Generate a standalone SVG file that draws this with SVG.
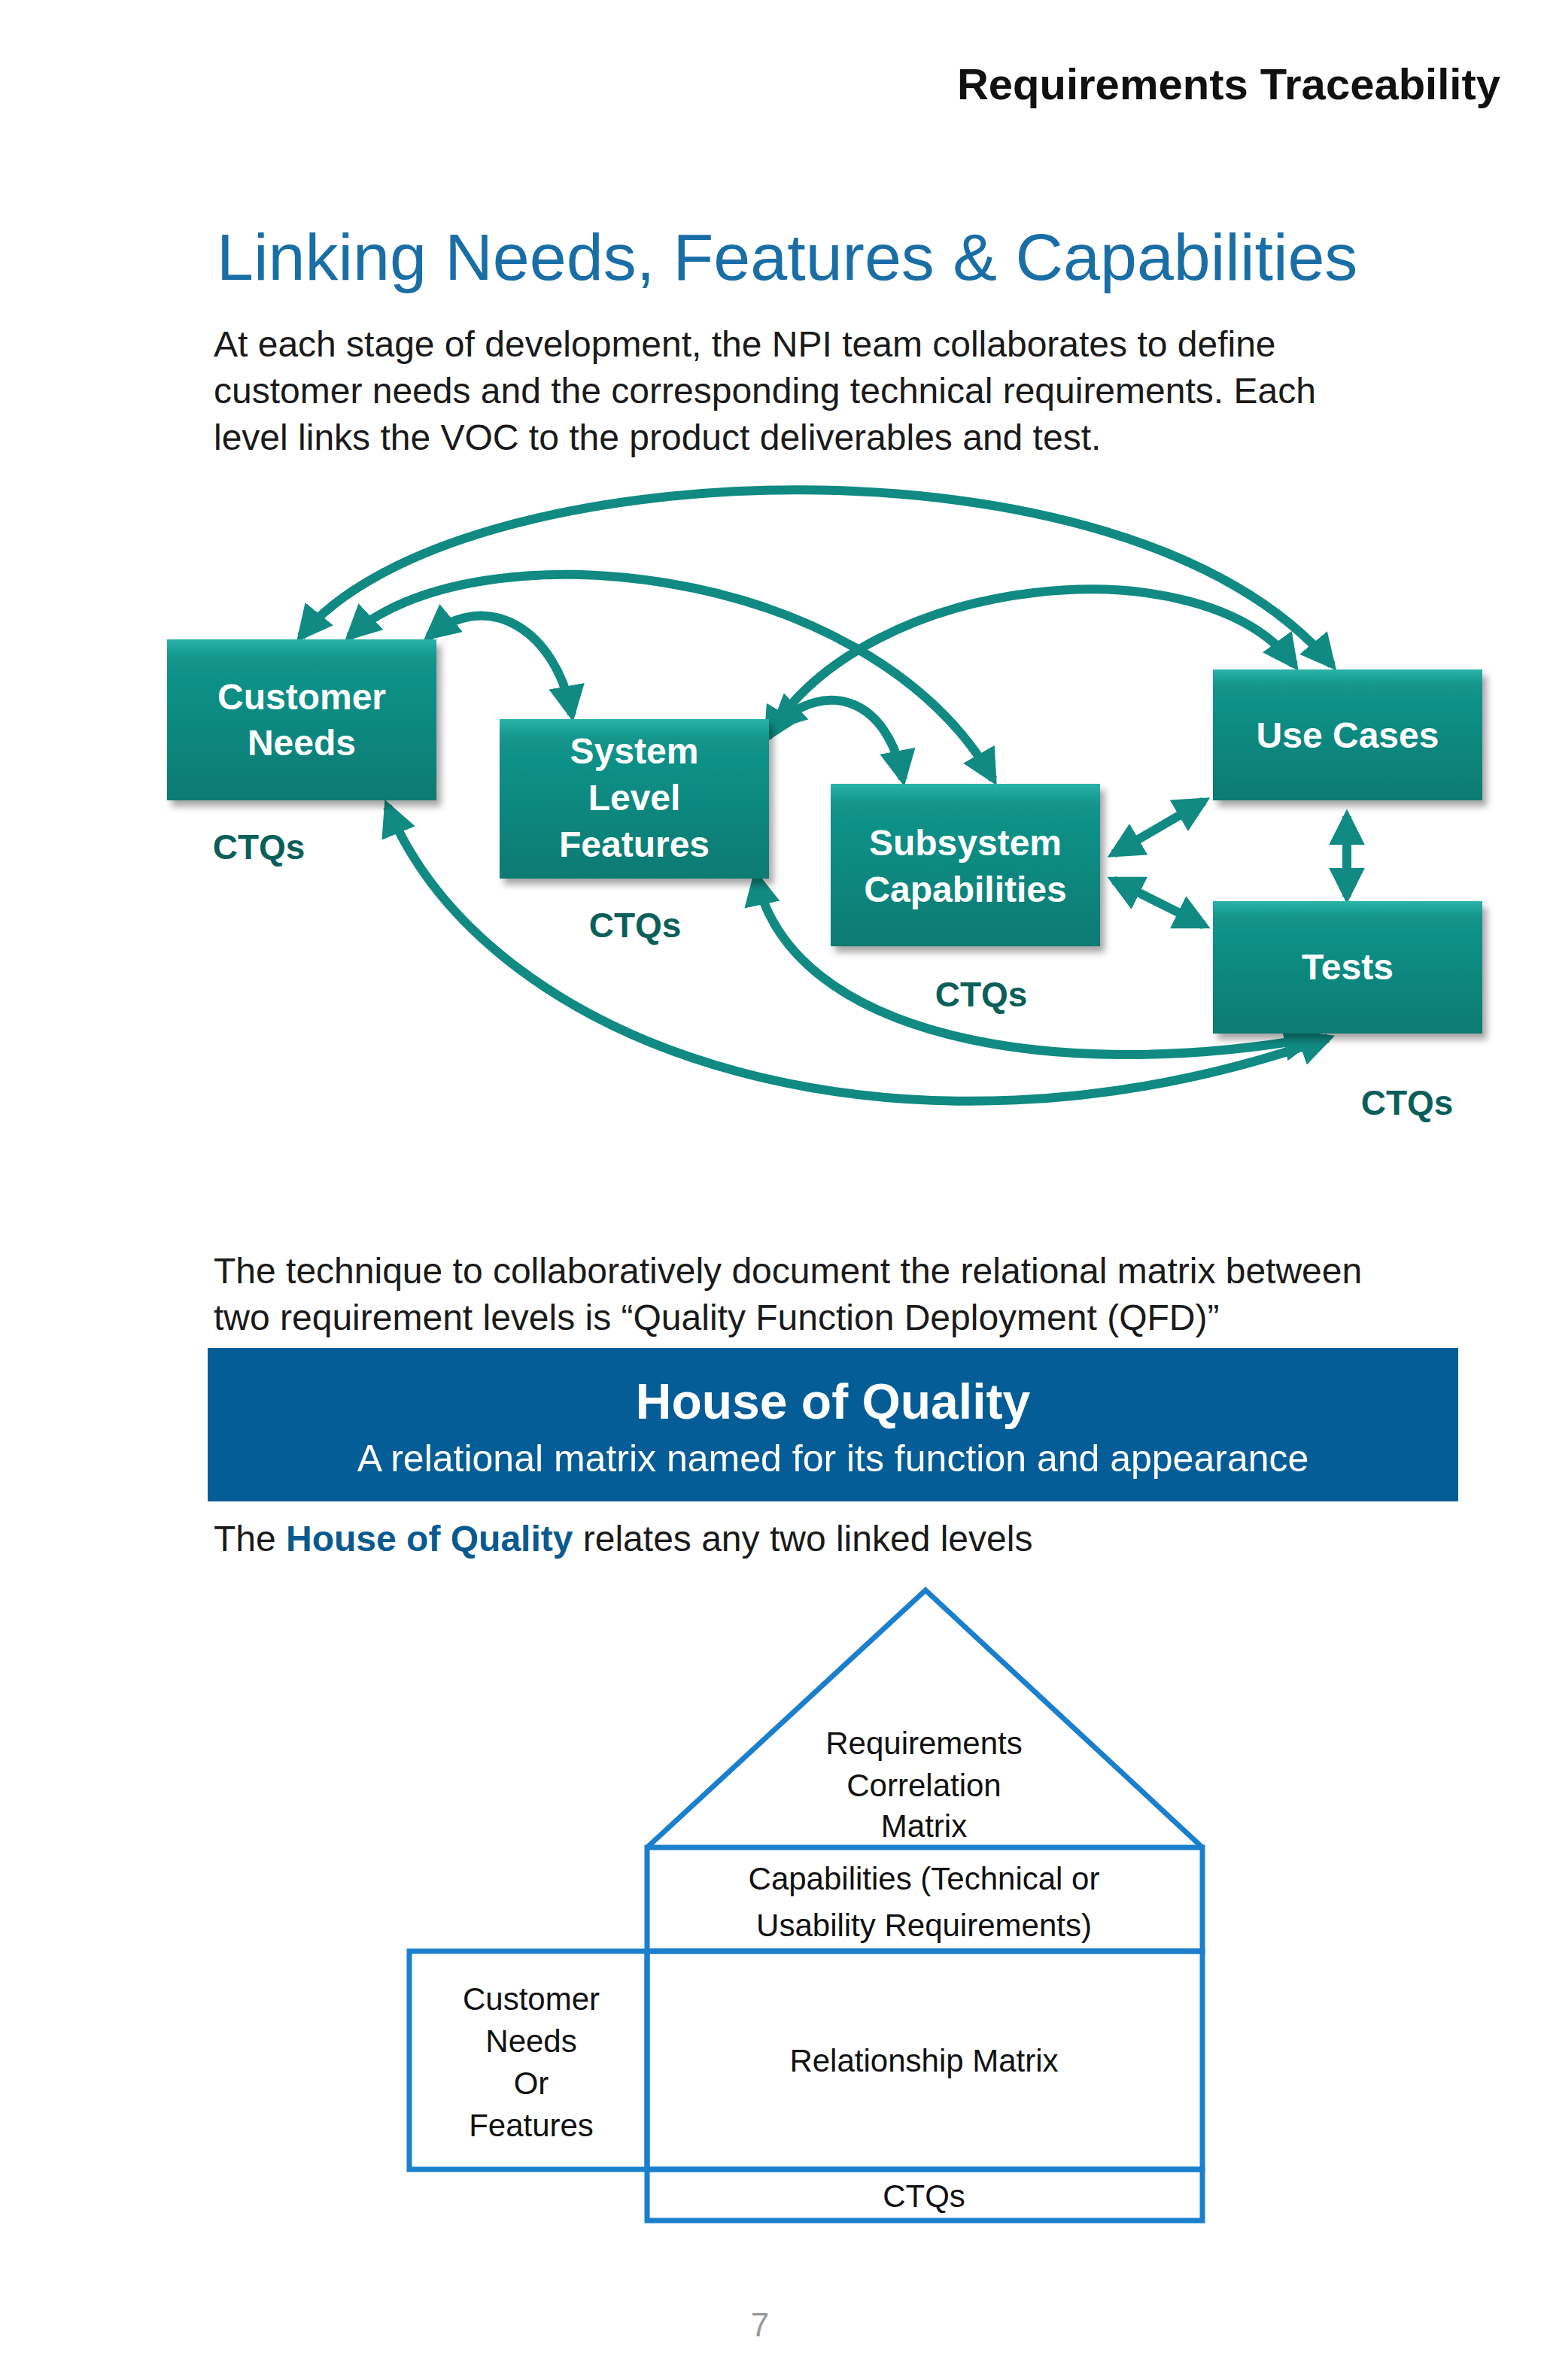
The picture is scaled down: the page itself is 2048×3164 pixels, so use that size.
<svg xmlns="http://www.w3.org/2000/svg" width="2048" height="3164" viewBox="0 0 2048 3164">
<defs>
<linearGradient id="g" x1="0" y1="0" x2="0" y2="1"><stop offset="0" stop-color="#2ab3a8"/><stop offset="0.12" stop-color="#12958b"/><stop offset="1" stop-color="#0b7a72"/></linearGradient>
<marker id="ah" viewBox="0 0 10 10" refX="8" refY="5" markerWidth="4" markerHeight="4" orient="auto-start-reverse" markerUnits="strokeWidth"><path d="M0,0 L10,5 L0,10 z" fill="#108a82"/></marker>
<filter id="sh" x="-10%" y="-10%" width="130%" height="130%"><feDropShadow dx="6" dy="8" stdDeviation="5" flood-color="#000" flood-opacity="0.35"/></filter>
</defs>
<style>
.t{font-family:"Liberation Sans",Arial,sans-serif}
.box{fill:url(#g);filter:url(#sh)}
.bl{font-family:"Liberation Sans",Arial,sans-serif;font-weight:bold;font-size:48px;fill:#fff;text-anchor:middle}
.ctq{font-family:"Liberation Sans",Arial,sans-serif;font-weight:bold;font-size:46px;fill:#0b5f59;text-anchor:middle}
.c{fill:none;stroke:#108a82;stroke-width:12;marker-start:url(#ah);marker-end:url(#ah)}
.c1{fill:none;stroke:#108a82;stroke-width:12;marker-end:url(#ah)}
.body{font-family:"Liberation Sans",Arial,sans-serif;font-size:48px;fill:#1a1a1a}
.h{fill:none;stroke:#1a7fcc;stroke-width:7}
.ht{font-family:"Liberation Sans",Arial,sans-serif;font-size:42px;fill:#111;text-anchor:middle}
</style>
<rect width="2048" height="3164" fill="#fff"/>
<text class="t" x="1994" y="132" font-size="58" font-weight="bold" text-anchor="end" fill="#111">Requirements Traceability</text>
<text class="t" x="288" y="372" font-size="88" fill="#1a6ea6">Linking Needs, Features &amp; Capabilities</text>
<text class="body" x="284" y="474">At each stage of development, the NPI team collaborates to define</text>
<text class="body" x="284" y="536">customer needs and the corresponding technical requirements. Each</text>
<text class="body" x="284" y="598">level links the VOC to the product deliverables and test.</text>

<g id="connectors">
<path class="c" d="M400,846 C600,600 1500,560 1770,884"/>
<path class="c" d="M465,846 C620,700 1150,740 1320,1036"/>
<path class="c" d="M570,846 C650,780 740,840 760,950"/>
<path class="c" d="M1020,980 C1150,760 1600,720 1720,884"/>
<path class="c" d="M1030,965 C1100,900 1180,930 1200,1036"/>
<path class="c" d="M1480,1135 L1600,1065"/>
<path class="c" d="M1480,1170 L1600,1230"/>
<path class="c" d="M1790,1085 L1790,1192"/>
<path class="c" d="M1005,1165 C1050,1380 1400,1440 1745,1380"/>
<path class="c" d="M515,1072 C650,1400 1200,1580 1765,1380"/>
</g>

<g id="customer-needs"><rect class="box" x="222" y="850" width="358" height="214"/><text class="bl" x="401" y="943">Customer</text><text class="bl" x="401" y="1004">Needs</text></g>
<g id="system-level-features"><rect class="box" x="664" y="956" width="358" height="212"/><text class="bl" x="843" y="1015">System</text><text class="bl" x="843" y="1077">Level</text><text class="bl" x="843" y="1139">Features</text></g>
<g id="subsystem-capabilities"><rect class="box" x="1104" y="1042" width="358" height="216"/><text class="bl" x="1283" y="1137">Subsystem</text><text class="bl" x="1283" y="1199">Capabilities</text></g>
<g id="use-cases"><rect class="box" x="1612" y="890" width="358" height="174"/><text class="bl" x="1791" y="994">Use Cases</text></g>
<g id="tests"><rect class="box" x="1612" y="1198" width="358" height="176"/><text class="bl" x="1791" y="1302">Tests</text></g>
<g id="ctq-labels">
<text class="ctq" x="344" y="1142">CTQs</text>
<text class="ctq" x="844" y="1246">CTQs</text>
<text class="ctq" x="1304" y="1338">CTQs</text>
<text class="ctq" x="1870" y="1482">CTQs</text>
</g>

<text class="body" x="284" y="1706">The technique to collaboratively document the relational matrix between</text>
<text class="body" x="284" y="1768">two requirement levels is “Quality Function Deployment (QFD)”</text>
<g id="banner"><rect x="276" y="1792" width="1662" height="204" fill="#045d96"/>
<text class="t" x="1107" y="1886" font-size="66" font-weight="bold" fill="#fff" text-anchor="middle">House of Quality</text>
<text class="t" x="1107" y="1956" font-size="50" fill="#fff" text-anchor="middle">A relational matrix named for its function and appearance</text></g>
<text class="body" x="284" y="2062">The <tspan font-weight="bold" fill="#0a5a8f">House of Quality</tspan> relates any two linked levels</text>

<g id="roof"><path class="h" d="M860,2456 L1230,2114 L1598,2456"/>
<text class="ht" x="1228" y="2332">Requirements</text><text class="ht" x="1228" y="2388">Correlation</text><text class="ht" x="1228" y="2442">Matrix</text></g>
<g id="capabilities"><rect class="h" x="860" y="2456" width="738" height="138"/>
<text class="ht" x="1228" y="2512" font-size="48">Capabilities (Technical or</text><text class="ht" x="1228" y="2574" font-size="48">Usability Requirements)</text></g>
<g id="relationship"><rect class="h" x="860" y="2594" width="738" height="290"/><text class="ht" x="1228" y="2754">Relationship Matrix</text></g>
<g id="customer"><rect class="h" x="544" y="2594" width="316" height="290"/>
<text class="ht" x="706" y="2672">Customer</text><text class="ht" x="706" y="2728">Needs</text><text class="ht" x="706" y="2784">Or</text><text class="ht" x="706" y="2840">Features</text></g>
<g id="ctqs"><rect class="h" x="860" y="2884" width="738" height="68"/><text class="ht" x="1228" y="2934" font-size="46">CTQs</text></g>
<text class="t" x="1010" y="3106" font-size="44" fill="#999" text-anchor="middle">7</text>
</svg>
